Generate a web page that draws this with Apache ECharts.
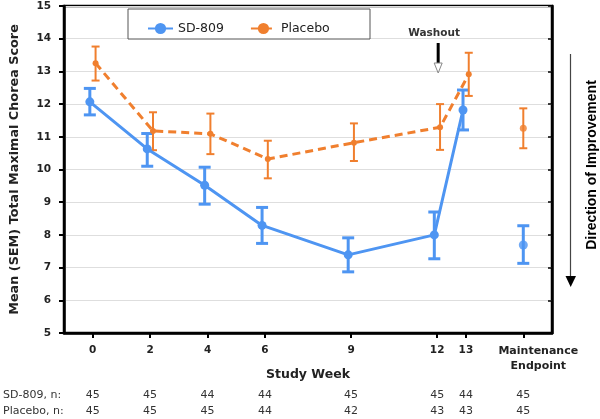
<!DOCTYPE html>
<html>
<head>
<meta charset="utf-8">
<script src="https://cdn.jsdelivr.net/npm/echarts@6.0.0/dist/echarts.min.js"></script>
<style>html,body{margin:0;padding:0;background:#fff;}#chart{width:600px;height:419px;}</style>
</head>
<body>
<div id="chart"></div>
<script>
// ---- data ----
const weeks = [0, 2, 4, 6, 9, 12, 13];
const maintWeek = 15;
const xTickValues = [0, 2, 4, 6, 9, 12, 13, 15];
const xTickLabels = ['0', '2', '4', '6', '9', '12', '13', 'Maintenance\nEndpoint'];
const sdMean = [12.07, 10.63, 9.52, 8.29, 7.39, 8.00, 11.82];
const sdLow  = [11.67, 10.10, 8.94, 7.74, 6.87, 7.27, 11.21];
const sdHigh = [12.48, 11.10, 10.07, 8.84, 7.91, 8.70, 12.43];
const sdMaint = [7.69, 7.13, 8.28];          // mean, low, high
const plMean = [13.25, 11.18, 11.09, 10.32, 10.82, 11.29, 12.91];
const plLow  = [12.72, 10.59, 10.47, 9.73, 10.26, 10.60, 12.25];
const plHigh = [13.76, 11.75, 11.71, 10.88, 11.41, 12.00, 13.57];
const plMaint = [11.26, 10.65, 11.87];
const nSD = [45, 45, 44, 44, 45, 45, 44, 45];
const nPlacebo = [45, 45, 45, 44, 42, 43, 43, 45];
const seriesNames = ['SD-809', 'Placebo'];
const nRowLabels = ['SD-809, n:', 'Placebo, n:'];

// ---- style ----
const BLUE = '#4e95f2', ORANGE = '#f07f2e';
const FONT = 'DejaVu Sans';
const dodge = 0.1;

const chart = echarts.init(document.getElementById('chart'), null, {renderer: 'canvas'});

function errRender(halfCap, width, color) {
  return function (params, api) {
    const x = api.value(0);
    const lo = api.coord([x, api.value(1)]);
    const hi = api.coord([x, api.value(2)]);
    const st = {stroke: color, lineWidth: width};
    return {
      type: 'group',
      children: [
        {type: 'line', shape: {x1: lo[0], y1: lo[1], x2: hi[0], y2: hi[1]}, style: st},
        {type: 'line', shape: {x1: lo[0] - halfCap, y1: lo[1], x2: lo[0] + halfCap, y2: lo[1]}, style: st},
        {type: 'line', shape: {x1: hi[0] - halfCap, y1: hi[1], x2: hi[0] + halfCap, y2: hi[1]}, style: st}
      ]
    };
  };
}

const sdLine = weeks.map((w, i) => [w - dodge, sdMean[i]]);
const plLine = weeks.map((w, i) => [w + dodge, plMean[i]]);
const sdErr = weeks.map((w, i) => [w - dodge, sdLow[i], sdHigh[i]]).concat([[maintWeek, sdMaint[1], sdMaint[2]]]);
const plErr = weeks.map((w, i) => [w + dodge, plLow[i], plHigh[i]]).concat([[maintWeek, plMaint[1], plMaint[2]]]);

const numTicks = xTickValues.filter((v, i) => xTickLabels[i].indexOf('\n') < 0);
const wordTicks = xTickValues.filter((v, i) => xTickLabels[i].indexOf('\n') >= 0);
function tickLabel(v) { const i = xTickValues.indexOf(v); return i >= 0 ? xTickLabels[i] : ''; }

const option = {
  animation: false,
  backgroundColor: '#fff',
  grid: {left: 61, right: 48, top: 6, bottom: 86, show: true, borderColor: '#000', borderWidth: 2.5, backgroundColor: 'transparent'},
  legend: {
    data: seriesNames,
    left: 142, top: 17,
    itemWidth: 25, itemHeight: 14, itemGap: 26,
    textStyle: {fontFamily: FONT, fontSize: 12.5, color: '#222'}
  },
  xAxis: [{
    type: 'value', min: -1, max: 16,
    name: 'Study Week', nameLocation: 'middle', nameGap: 35,
    nameTextStyle: {fontFamily: FONT, fontWeight: 'bold', fontSize: 12.5, color: '#222'},
    axisLine: {show: true, onZero: false, lineStyle: {color: '#000', width: 2.5}},
    axisTick: {show: true, customValues: xTickValues, length: 5, lineStyle: {color: '#000', width: 2}},
    axisLabel: {
      customValues: numTicks, margin: 12,
      fontFamily: FONT, fontWeight: 'bold', fontSize: 10.5, color: '#222',
      formatter: tickLabel
    },
    splitLine: {show: false}
  }, {
    type: 'value', min: -1, max: 16, position: 'bottom',
    axisLine: {show: false, onZero: false},
    axisTick: {show: false},
    axisLabel: {
      customValues: wordTicks, margin: 11,
      fontFamily: FONT, fontWeight: 'bold', fontSize: 11, color: '#222', lineHeight: 15,
      formatter: function (v) { return tickLabel(v).split('\n').map(s => '{m|' + s + '}').join('\n'); },
      rich: {m: {fontFamily: FONT, fontWeight: 'bold', fontSize: 11, color: '#222', lineHeight: 15, padding: [0, 0, 0, 30]}}
    },
    splitLine: {show: false}
  }],
  yAxis: [{
    type: 'value', min: 5, max: 15, interval: 1, position: 'left',
    name: 'Mean (SEM) Total Maximal Chorea Score', nameLocation: 'middle', nameRotate: 90, nameGap: 43,
    nameTextStyle: {fontFamily: FONT, fontWeight: 'bold', fontSize: 12.8, color: '#222'},
    axisLine: {show: true, onZero: false, lineStyle: {color: '#000', width: 2.5}},
    axisTick: {show: true, length: 5, lineStyle: {color: '#000', width: 2}},
    axisLabel: {margin: 13, fontFamily: FONT, fontWeight: 'bold', fontSize: 10.5, color: '#222'},
    splitLine: {show: true, lineStyle: {color: '#dedede', width: 1.2}}
  }, {
    type: 'value', min: 5, max: 15, interval: 1, position: 'right',
    axisLine: {show: true, onZero: false, lineStyle: {color: '#000', width: 2.5}},
    axisTick: {show: true, inside: true, length: 4, lineStyle: {color: '#000', width: 1.5}},
    axisLabel: {show: false},
    splitLine: {show: false}
  }],
  series: [
    {name: 'SD-809-err', type: 'custom', renderItem: errRender(6, 3, BLUE), data: sdErr, z: 3, encode: {x: 0, y: [1, 2]}, silent: true},
    {name: 'Placebo-err', type: 'custom', renderItem: errRender(4, 2, ORANGE), data: plErr, z: 3, encode: {x: 0, y: [1, 2]}, silent: true},
    {name: 'Placebo', type: 'line', data: plLine, symbol: 'circle', symbolSize: 6, color: ORANGE,
      lineStyle: {color: ORANGE, width: 3, type: [8, 5]}, itemStyle: {color: ORANGE}, z: 4},
    {name: 'Placebo', type: 'scatter', data: [[maintWeek, plMaint[0]]], symbol: 'circle', symbolSize: 7, itemStyle: {color: ORANGE}, z: 4},
    {name: 'SD-809', type: 'line', data: sdLine, symbol: 'circle', symbolSize: 9, color: BLUE,
      lineStyle: {color: BLUE, width: 3}, itemStyle: {color: BLUE}, z: 5},
    {name: 'SD-809', type: 'scatter', data: [[maintWeek, sdMaint[0]]], symbol: 'circle', symbolSize: 9, itemStyle: {color: BLUE}, z: 5}
  ]
};
chart.setOption(option);

function px(x) { return chart.convertToPixel({xAxisIndex: 0}, x); }

const g = [];
// legend box
g.push({type: 'rect', shape: {x: 128, y: 9, width: 242, height: 30}, style: {fill: '#fff', stroke: '#555', lineWidth: 1}, z: 1});
// washout annotation
const wx = px(12);
g.push({type: 'text', style: {text: 'Washout', x: wx - 3, y: 33, align: 'center', verticalAlign: 'middle', font: 'bold 10.5px "DejaVu Sans"', fill: '#333'}, z: 10});
g.push({type: 'line', shape: {x1: wx + 1, y1: 43, x2: wx + 1, y2: 63}, style: {stroke: '#000', lineWidth: 3}, z: 10});
g.push({type: 'polygon', shape: {points: [[wx - 3, 63], [wx + 5, 63], [wx + 1, 73]]}, style: {fill: '#fff', stroke: '#888', lineWidth: 1}, z: 10});
// direction arrow
g.push({type: 'line', shape: {x1: 570.5, y1: 54, x2: 570.5, y2: 278}, style: {stroke: '#444', lineWidth: 1.2}, z: 10});
g.push({type: 'polygon', shape: {points: [[565.5, 276], [576, 276], [570.7, 287]]}, style: {fill: '#000'}, z: 10});
g.push({type: 'text', x: 592, y: 165, rotation: Math.PI / 2,
  style: {text: 'Direction of Improvement', x: 0, y: 0, align: 'center', verticalAlign: 'middle', font: 'bold 14px "Liberation Sans"', fill: '#000'}, z: 10});
// n table
const rows = [nSD, nPlacebo];
const rowY = [395, 411];
rows.forEach((arr, r) => {
  g.push({type: 'text', style: {text: nRowLabels[r], x: 3, y: rowY[r], align: 'left', verticalAlign: 'middle', font: '11px "DejaVu Sans"', fill: '#333'}});
  arr.forEach((n, i) => {
    g.push({type: 'text', style: {text: String(n), x: px(xTickValues[i]), y: rowY[r], align: 'center', verticalAlign: 'middle', font: '11px "DejaVu Sans"', fill: '#333'}});
  });
});
chart.setOption({graphic: g});
</script>
</body>
</html>
